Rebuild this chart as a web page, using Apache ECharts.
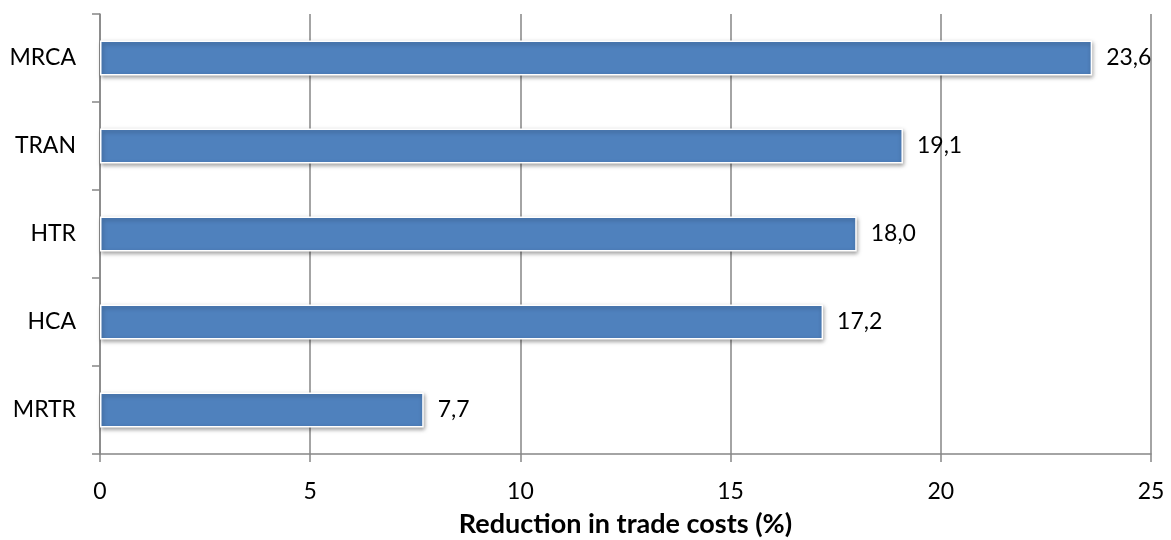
<!DOCTYPE html>
<html><head><meta charset="utf-8">
<script src="https://cdn.jsdelivr.net/npm/echarts@6/dist/echarts.min.js"></script>
<style>html,body{margin:0;padding:0;background:#fff}#c{width:1171px;height:540px}</style>
</head><body><div id="c"></div>
<script>
const categories = ['MRCA', 'TRAN', 'HTR', 'HCA', 'MRTR'];
const values = [23.6, 19.1, 18.0, 17.2, 7.7];
const xTicks = [0, 5, 10, 15, 20, 25];
const axisName = 'Reduction in trade costs (%)';

const chart = echarts.init(document.getElementById('c'));
const font = 'Lato';
chart.setOption({
  animation: false,
  grid: { left: 100, right: 20, top: 14, bottom: 86, containLabel: false, outerBoundsMode: 'none' },
  xAxis: {
    type: 'value', min: xTicks[0], max: xTicks[xTicks.length - 1], interval: 5,
    name: axisName, nameLocation: 'middle', nameGap: 57,
    nameTextStyle: { fontFamily: font, fontSize: 27, fontWeight: 'bold', color: '#000' },
    axisLine: { show: true, lineStyle: { color: '#868686', width: 1.5 } },
    axisTick: { show: true, length: 8, lineStyle: { color: '#868686', width: 1.5 } },
    axisLabel: { fontFamily: font, fontSize: 23, color: '#000', margin: 26 },
    splitLine: { show: true, lineStyle: { color: '#868686', width: 1.5 } }
  },
  yAxis: {
    type: 'category', data: categories, inverse: true,
    axisLine: { show: true, lineStyle: { color: '#868686', width: 1.5 } },
    axisTick: { show: true, length: 8, lineStyle: { color: '#868686', width: 1.5 } },
    axisLabel: { fontFamily: font, fontSize: 23, color: '#000', margin: 24 },
    splitLine: { show: false }
  },
  series: [{
    type: 'bar', data: values, barCategoryGap: '60%',
    itemStyle: {
      color: '#4F81BD', borderColor: '#fff', borderWidth: 1.5,
      shadowColor: 'rgba(0,0,0,0.35)', shadowBlur: 4, shadowOffsetX: 1, shadowOffsetY: 2
    },
    label: {
      show: true, position: 'right', distance: 14,
      fontFamily: font, fontSize: 23, color: '#000',
      formatter: p => p.value.toFixed(1).replace('.', ',')
    }
  }]
});
</script></body></html>
